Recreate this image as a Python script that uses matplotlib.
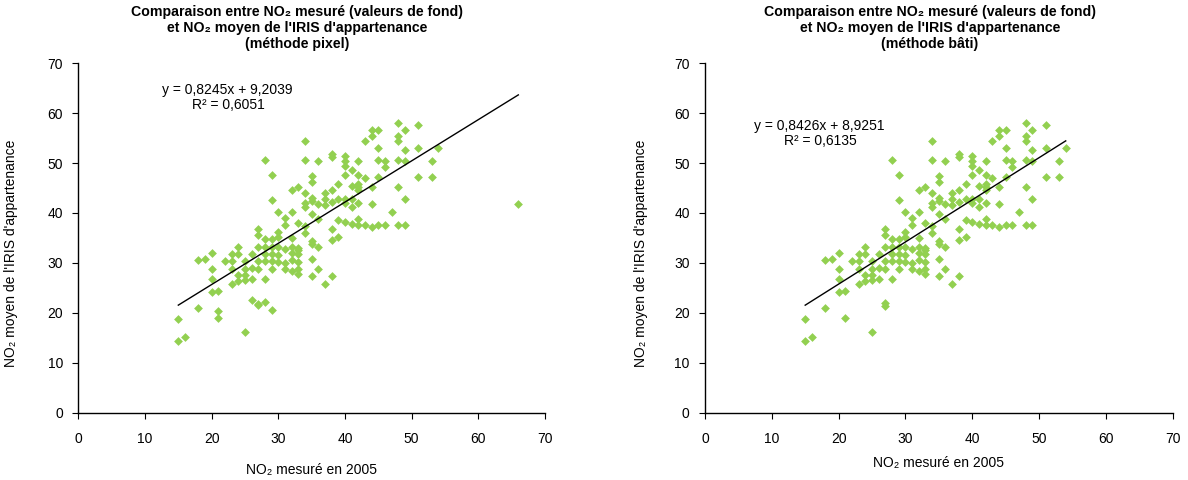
import matplotlib
matplotlib.use("Agg")
import matplotlib.pyplot as plt

plt.rcParams["font.family"] = ["Liberation Sans", "DejaVu Sans"]

# NO2 mesuré (x) et NO2 moyen de l'IRIS (y) - méthode pixel
x_pixel = [15, 15, 16, 18, 18, 19, 20, 20, 20, 20, 21, 21, 21, 22,
           23, 23, 23, 23, 24, 24, 24, 24, 25, 25, 25, 25, 25,
           26, 26, 26, 26, 27, 27, 27, 27, 27, 27, 27,
           28, 28, 28, 28, 28, 28, 28, 29, 29, 29, 29, 29, 29, 29, 29,
           30, 30, 30, 30, 30, 30, 31, 31, 31, 31, 31,
           32, 32, 32, 32, 32, 32, 32, 33, 33, 33, 33, 33, 33, 33, 33,
           34, 34, 34, 34, 34, 34, 34, 35, 35, 35, 35, 35, 35, 35, 35, 35,
           36, 36, 36, 36, 36, 37, 37, 37, 37, 38, 38, 38, 38, 38, 38, 38,
           39, 39, 39, 39, 40, 40, 40, 40, 40, 40, 40, 41, 41, 41, 41, 41,
           42, 42, 42, 42, 42, 42, 42, 42, 43, 43, 43, 44, 44, 44, 44, 44,
           45, 45, 45, 45, 45, 46, 46, 46, 47, 48, 48, 48, 48, 48, 48,
           49, 49, 49, 49, 49, 51, 51, 51, 53, 53, 54, 66]
y_pixel = [18.9, 14.5, 15.2, 30.6, 21.1, 30.8, 32.0, 28.9, 26.9, 24.3, 24.4, 20.4, 19.1, 30.4,
           31.8, 30.5, 28.9, 25.9, 33.2, 31.8, 27.7, 26.4, 30.5, 28.9, 27.7, 26.7, 16.3,
           31.8, 29.1, 26.9, 22.7, 36.9, 35.7, 33.2, 30.5, 28.9, 21.9, 21.6,
           50.6, 34.9, 33.3, 31.9, 30.5, 26.9, 22.3, 47.7, 42.7, 34.9, 33.3, 31.9, 30.5, 28.9, 20.6,
           40.3, 36.3, 35.3, 33.3, 31.7, 30.3, 39.0, 37.7, 32.9, 30.1, 28.9,
           44.7, 40.2, 35.1, 33.3, 32.0, 30.7, 28.5, 45.3, 38.1, 33.1, 32.6, 31.8, 30.3, 28.9, 27.8,
           54.5, 50.6, 44.1, 42.1, 41.3, 37.4, 36.1, 47.5, 46.3, 43.0, 42.4, 39.9, 34.4, 33.8, 30.9, 27.5,
           50.5, 41.9, 38.9, 33.2, 28.9, 44.1, 42.9, 41.7, 25.8, 51.9, 51.3, 44.6, 42.2, 36.9, 34.7, 27.5,
           45.8, 42.9, 38.7, 35.3, 51.5, 50.5, 49.4, 47.6, 42.9, 42.1, 38.3, 48.6, 45.5, 42.9, 41.3, 37.9,
           50.5, 47.7, 45.9, 45.3, 44.7, 42.1, 38.9, 37.7, 54.4, 47.1, 37.7, 56.7, 55.4, 45.3, 41.9, 37.3,
           56.7, 53.1, 50.7, 47.3, 37.7, 50.5, 49.3, 37.7, 40.2, 58.1, 55.4, 54.5, 50.6, 45.3, 37.7,
           56.7, 52.6, 50.5, 42.9, 37.7, 57.7, 53.1, 47.3, 50.5, 47.3, 53.0, 41.9]

# méthode bâti
x_bati = [15, 15, 16, 18, 18, 19, 20, 20, 20, 20, 21, 21, 22,
          23, 23, 23, 23, 24, 24, 24, 24, 25, 25, 25, 25, 25,
          26, 26, 26, 27, 27, 27, 27, 27, 27, 27,
          28, 28, 28, 28, 28, 28, 29, 29, 29, 29, 29, 29, 29,
          30, 30, 30, 30, 30, 30, 31, 31, 31, 31, 31,
          32, 32, 32, 32, 32, 32, 32, 33, 33, 33, 33, 33, 33, 33, 33,
          34, 34, 34, 34, 34, 34, 34, 35, 35, 35, 35, 35, 35, 35, 35, 35,
          36, 36, 36, 36, 36, 37, 37, 37, 37, 38, 38, 38, 38, 38, 38, 38,
          39, 39, 39, 39, 40, 40, 40, 40, 40, 40, 40, 41, 41, 41, 41, 41,
          42, 42, 42, 42, 42, 42, 42, 42, 43, 43, 43, 44, 44, 44, 44, 44,
          45, 45, 45, 45, 45, 46, 46, 46, 47, 48, 48, 48, 48, 48, 48,
          49, 49, 49, 49, 49, 51, 51, 51, 53, 53, 54]
y_bati = [18.9, 14.5, 15.2, 30.6, 21.1, 30.8, 32.0, 28.9, 26.9, 24.3, 24.4, 19.0, 30.4,
          31.8, 30.5, 28.9, 25.9, 33.2, 31.8, 27.7, 26.4, 30.5, 28.9, 27.7, 26.7, 16.3,
          31.8, 29.1, 26.9, 36.9, 35.7, 33.2, 30.5, 28.9, 22.1, 21.5,
          50.6, 34.9, 33.3, 31.9, 30.5, 26.9, 47.7, 42.7, 34.9, 33.3, 31.9, 30.5, 28.9,
          40.3, 36.3, 35.3, 33.3, 31.7, 30.3, 39.0, 37.7, 32.9, 30.1, 28.9,
          44.7, 40.2, 35.1, 33.3, 32.0, 30.7, 28.5, 45.3, 38.1, 33.1, 32.6, 31.8, 30.3, 28.9, 27.8,
          54.5, 50.6, 44.1, 42.1, 41.3, 37.4, 36.1, 47.5, 46.3, 43.0, 42.4, 39.9, 34.4, 33.8, 30.9, 27.5,
          50.5, 41.9, 38.9, 33.2, 28.9, 44.1, 42.9, 41.7, 25.8, 51.9, 51.3, 44.6, 42.2, 36.9, 34.7, 27.5,
          45.8, 42.9, 38.7, 35.3, 51.5, 50.5, 49.4, 47.6, 42.9, 42.1, 38.3, 48.6, 45.5, 42.9, 41.3, 37.9,
          50.5, 47.7, 45.9, 45.3, 44.7, 42.1, 38.9, 37.7, 54.4, 47.1, 37.7, 56.7, 55.4, 45.3, 41.9, 37.3,
          56.7, 53.1, 50.7, 47.3, 37.7, 50.5, 49.3, 37.7, 40.2, 58.1, 55.4, 54.5, 50.6, 45.3, 37.7,
          56.7, 52.6, 50.5, 42.9, 37.7, 57.7, 53.1, 47.3, 50.5, 47.3, 53.0]

# droites de tendance (Excel)
fit_pixel = (0.8245, 9.2039, 0.6051)
fit_bati = (0.8426, 8.9251, 0.6135)

ticks = [0, 10, 20, 30, 40, 50, 60, 70]
green = "#92D050"

fig = plt.figure(figsize=(11.88, 4.8), dpi=100)

panels = [
    (x_pixel, y_pixel, fit_pixel, "(méthode pixel)",
     [78.3 / 1188, 67 / 480, 466.7 / 1188, 350 / 480], 297, (227, 90), -0.129, 470),
    (x_bati, y_bati, fit_bati, "(méthode bâti)",
     [705 / 1188, 67 / 480, 467.6 / 1188, 350 / 480], 930, (819, 126), -0.122, 463),
]

for xs, ys, fit, method, rect, title_x, eq_pos, ylab_x, xlab_py in panels:
    ax = fig.add_axes(rect)
    ax.scatter(xs, ys, marker="D", s=20, color=green, linewidths=0, zorder=2)

    a, b, r2 = fit
    x0, x1 = min(xs), max(xs)
    ax.plot([x0, x1], [a * x0 + b, a * x1 + b], color="black", lw=1.0, zorder=3)

    ax.set_xlim(0, 70)
    ax.set_ylim(0, 70)
    ax.set_xticks(ticks)
    ax.set_yticks(ticks)
    ax.tick_params(direction="out", length=4, width=0.8, labelsize=10, pad=7)
    ax.tick_params(axis="x", pad=10)
    for side in ("top", "right"):
        ax.spines[side].set_visible(False)
    for side in ("left", "bottom"):
        ax.spines[side].set_linewidth(1.0)

    ax.set_ylabel("NO₂ moyen de l'IRIS d'appartenance", fontsize=10)
    ax.yaxis.set_label_coords(ylab_x, 0.457)
    cx = rect[0] + rect[2] / 2
    fig.text(cx, 1 - xlab_py / 480, "NO₂ mesuré en 2005", ha="center", va="center", fontsize=10)

    eq = f"y = {a:.4f}x + {b:.4f}".replace(".", ",")
    r2_txt = f"R² = {r2:.4f}".replace(".", ",")
    ex, ey = eq_pos
    fig.text(ex / 1188, 1 - ey / 480, eq, ha="center", va="center", fontsize=10)
    fig.text((ex + 1) / 1188, 1 - (ey + 15) / 480, r2_txt, ha="center", va="center", fontsize=10)

    title_lines = ["Comparaison entre NO₂ mesuré (valeurs de fond)",
                   "et NO₂ moyen de l'IRIS d'appartenance",
                   method]
    for i, line in enumerate(title_lines):
        fig.text(title_x / 1188, 1 - (12 + 16 * i) / 480, line, ha="center", va="center",
                 fontsize=10.2, fontweight="bold")

fig.savefig("out.png", dpi=100)
